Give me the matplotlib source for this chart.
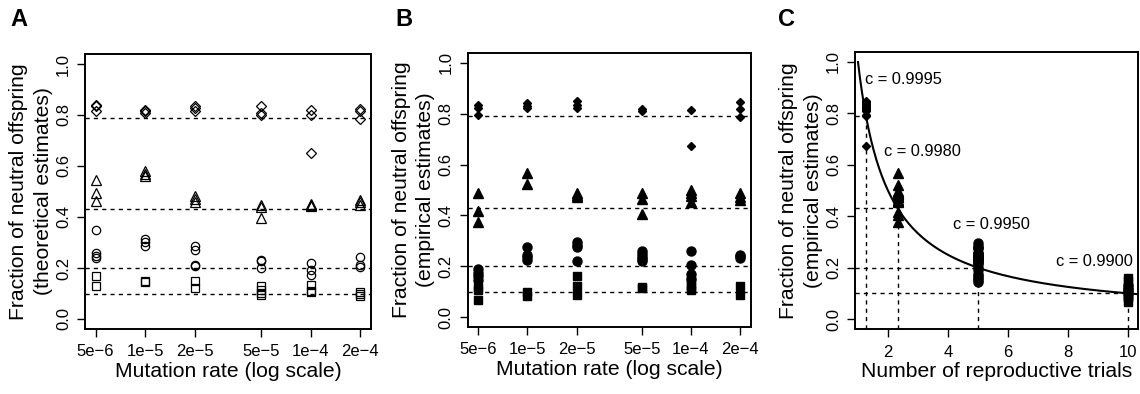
import numpy as np
import matplotlib
matplotlib.use("Agg")
import matplotlib.pyplot as plt

plt.rcParams['font.family'] = ['Liberation Sans', 'DejaVu Sans']

# mutation rates (x axis of A and B)
rates = [5e-6, 1e-5, 2e-5, 5e-5, 1e-4, 2e-4]
rate_labels = ["5e\u22126", "1e\u22125", "2e\u22125", "5e\u22125", "1e\u22124", "2e\u22124"]

# reference fractions (dashed lines) = 1 / number of reproductive trials
ref_fracs = [0.79, 0.43, 0.2, 0.1]
c_labels = ["c = 0.9995", "c = 0.9980", "c = 0.9950", "c = 0.9900"]

# panel A: theoretical estimates, one list per mutation rate
theo_diamond = [[0.84, 0.835, 0.815], [0.821, 0.814, 0.808], [0.837, 0.827, 0.817],
                [0.834, 0.808, 0.801], [0.821, 0.801, 0.651], [0.825, 0.817, 0.786]]
theo_triangle = [[0.546, 0.494, 0.461], [0.579, 0.569, 0.559], [0.481, 0.472, 0.460],
                 [0.446, 0.439, 0.396], [0.452, 0.446, 0.442], [0.468, 0.458, 0.448]]
theo_circle = [[0.35, 0.259, 0.248, 0.238], [0.314, 0.302, 0.288], [0.285, 0.272, 0.21, 0.207],
               [0.233, 0.226, 0.2], [0.22, 0.193, 0.174], [0.242, 0.21, 0.203]]
theo_square = [[0.167, 0.128], [0.15, 0.145], [0.15, 0.122],
               [0.128, 0.115, 0.102, 0.093], [0.135, 0.108, 0.106], [0.106, 0.098, 0.089]]

# panel B: empirical estimates
emp_diamond = [[0.836, 0.823, 0.795], [0.843, 0.83, 0.823], [0.849, 0.836, 0.823],
               [0.82, 0.81], [0.814, 0.674], [0.846, 0.817, 0.788]]
emp_triangle = [[0.49, 0.416, 0.376], [0.568, 0.522], [0.487, 0.48, 0.474],
                [0.487, 0.463, 0.404], [0.5, 0.49, 0.475, 0.454], [0.49, 0.474, 0.461]]
emp_circle = [[0.19, 0.175, 0.16, 0.145], [0.277, 0.245, 0.235, 0.225], [0.294, 0.285, 0.275, 0.219],
              [0.258, 0.25, 0.238, 0.228, 0.219], [0.258, 0.203, 0.169, 0.15], [0.245, 0.24, 0.232]]
emp_square = [[0.12, 0.105, 0.068], [0.097, 0.081], [0.16, 0.124, 0.088],
              [0.12, 0.113], [0.146, 0.126, 0.115, 0.107], [0.123, 0.088]]

W, H = 1140, 394
fig = plt.figure(figsize=(W / 100, H / 100), dpi=100)

def px_axes(l, t, r, b):
    return fig.add_axes([l / W, 1 - b / H, (r - l) / W, (b - t) / H])

axA = px_axes(85, 53.8, 371, 329.2)
axB = px_axes(467.7, 52.8, 750.7, 327.2)
axC = px_axes(855, 51.7, 1138, 329.3)

dash = (0, (3, 3))
lab_fs = 15.2
tick_fs = 12

def style(ax):
    for s in ax.spines.values():
        s.set_linewidth(1.4)
    ax.set_ylim(-0.04, 1.04)
    ax.set_yticks([0, 0.2, 0.4, 0.6, 0.8, 1.0])
    ax.set_yticklabels(["0.0", "0.2", "0.4", "0.6", "0.8", "1.0"], rotation=90, va='center')
    ax.tick_params(direction='out', length=6, width=1, labelsize=tick_fs, pad=4)
    ax.tick_params(axis='x', pad=5)

def rate_panel(ax, series, ylabel, filled):
    ax.set_xscale('log')
    ext = 10 ** (0.04 * np.log10(rates[-1] / rates[0]))
    ax.set_xlim(rates[0] / ext, rates[-1] * ext)
    for f in ref_fracs:
        ax.axhline(f, color='black', lw=1.0, ls=dash)
    for vals, mk, ms in series:
        for r, v in zip(rates, vals):
            xs = [r] * len(v)
            if filled:
                ax.plot(xs, v, ls='none', marker=mk, ms=ms, color='black', mec='black')
            else:
                ax.plot(xs, v, ls='none', marker=mk, ms=ms, mfc='none', mec='black', mew=0.9)
    style(ax)
    ax.set_xticks(rates)
    ax.set_xticklabels(rate_labels)
    ax.minorticks_off()
    ax.set_xlabel("Mutation rate (log scale)", fontsize=lab_fs, labelpad=1.5)
    ax.set_ylabel(ylabel, fontsize=lab_fs, linespacing=1.35, labelpad=2.5)

rate_panel(axA, [(theo_diamond, 'D', 5.2), (theo_triangle, '^', 7.5),
                 (theo_circle, 'o', 6.0), (theo_square, 's', 5.2)],
           "Fraction of neutral offspring\n(theoretical estimates)", False)
rate_panel(axB, [(emp_diamond, 'D', 3.6), (emp_triangle, '^', 7.5),
                 (emp_circle, 'o', 6.5), (emp_square, 's', 5.8)],
           "Fraction of neutral offspring\n(empirical estimates)", True)

# panel C
trials = [1 / f for f in ref_fracs]
axC.set_xlim(0.9, 10.35)
nx = np.linspace(1, 10.6, 300)
axC.plot(nx, 1 / nx, color='black', lw=1.5)
for n, f in zip(trials, ref_fracs):
    axC.plot([0.9, n], [f, f], color='black', lw=1.0, ls=dash)
    axC.plot([n, n], [-0.04, f], color='black', lw=1.0, ls=dash)
for vals, n, mk, ms in [(emp_diamond, trials[0], 'D', 3.6), (emp_triangle, trials[1], '^', 7.5),
                        (emp_circle, trials[2], 'o', 6.5), (emp_square, trials[3], 's', 5.8)]:
    v = [x for grp in vals for x in grp]
    axC.plot([n] * len(v), v, ls='none', marker=mk, ms=ms, color='black')
c_pos = [(2.52, 0.93), (3.16, 0.65), (5.45, 0.366), (8.9, 0.223)]
for lab, (x, y) in zip(c_labels, c_pos):
    axC.text(x, y, lab, ha='center', va='center', fontsize=11.8)
style(axC)
axC.set_xticks([2, 4, 6, 8, 10])
axC.set_xlabel("Number of reproductive trials", fontsize=lab_fs, labelpad=1.5)
axC.set_ylabel("Fraction of neutral offspring\n(empirical estimates)", fontsize=lab_fs,
               linespacing=1.35, labelpad=2.5)

for lab, x in [("A", 10), ("B", 395), ("C", 778)]:
    fig.text(x / W, 1 - 19 / H, lab, fontsize=17, fontweight='bold', va='center', ha='left')

fig.savefig("out.png", dpi=100)
